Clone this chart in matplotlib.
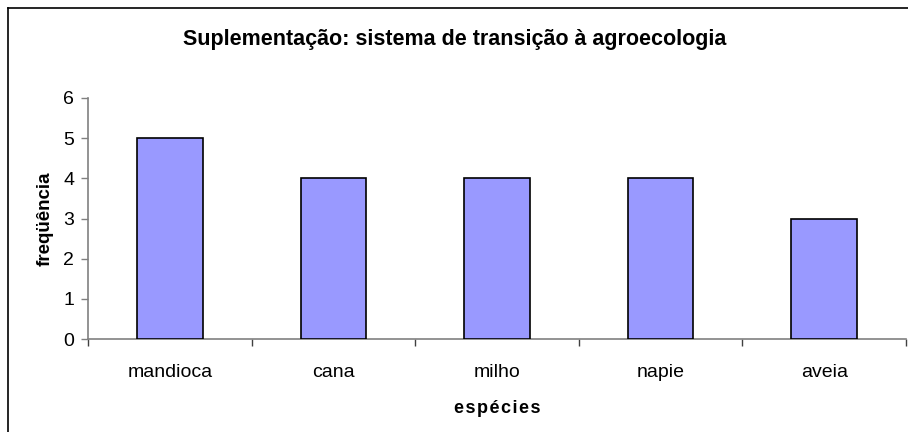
import matplotlib
matplotlib.use("Agg")
import matplotlib.pyplot as plt
from matplotlib.lines import Line2D

categories = ["mandioca", "cana", "milho", "napie", "aveia"]
values = [5, 4, 4, 4, 3]
yticks = [0, 1, 2, 3, 4, 5, 6]

plt.rcParams['font.family'] = ['Liberation Sans', 'DejaVu Sans']

fig = plt.figure(figsize=(9.08, 4.32), dpi=100)
W, H = 908, 432
ax = fig.add_axes([88 / W, 1 - 339 / H, (906 - 88) / W, (339 - 98) / H])

x = list(range(len(categories)))
ax.bar(x, values, width=0.4, color="#9999FF", edgecolor="black", linewidth=1.2, zorder=3)
ax.set_xlim(-0.5, len(categories) - 0.5)
ax.set_ylim(0, 6)
ax.set_yticks(yticks)
ax.set_yticklabels([str(t) for t in yticks], fontsize=14)
ax.set_xticks(x)
ax.set_xticklabels(categories, fontsize=14)
ax.tick_params(axis='x', length=0, pad=18)
ax.set_xticks([i - 0.5 for i in range(len(categories) + 1)], minor=True)
ax.tick_params(axis='x', which='minor', length=5, width=1, color="#404040", direction='out')
ax.tick_params(axis='y', length=5, width=1, color="#808080", direction='out', pad=5)

for s in ['top', 'right']:
    ax.spines[s].set_visible(False)
for s in ['left', 'bottom']:
    ax.spines[s].set_color("#808080")
    ax.spines[s].set_linewidth(1.2)

ax.set_ylabel("freqüência", fontsize=13.5, fontweight='bold', labelpad=7)
ax.set_xlabel("e s p é c i e s".replace(" ", "\u200a"), fontsize=13, fontweight='bold', labelpad=14)

fig.text(455 / W, 1 - 40 / H, "Suplementação: sistema de transição à agroecologia",
         fontsize=15.5, fontweight='bold', ha='center', va='center')

# outer chart border (top and left visible)
fig.add_artist(Line2D([8 / W, 8 / W], [0, 1 - 8 / H], color="black", linewidth=1.2, transform=fig.transFigure))
fig.add_artist(Line2D([8 / W, 1], [1 - 8 / H, 1 - 8 / H], color="black", linewidth=1.2, transform=fig.transFigure))

fig.savefig("out.png", dpi=100)
